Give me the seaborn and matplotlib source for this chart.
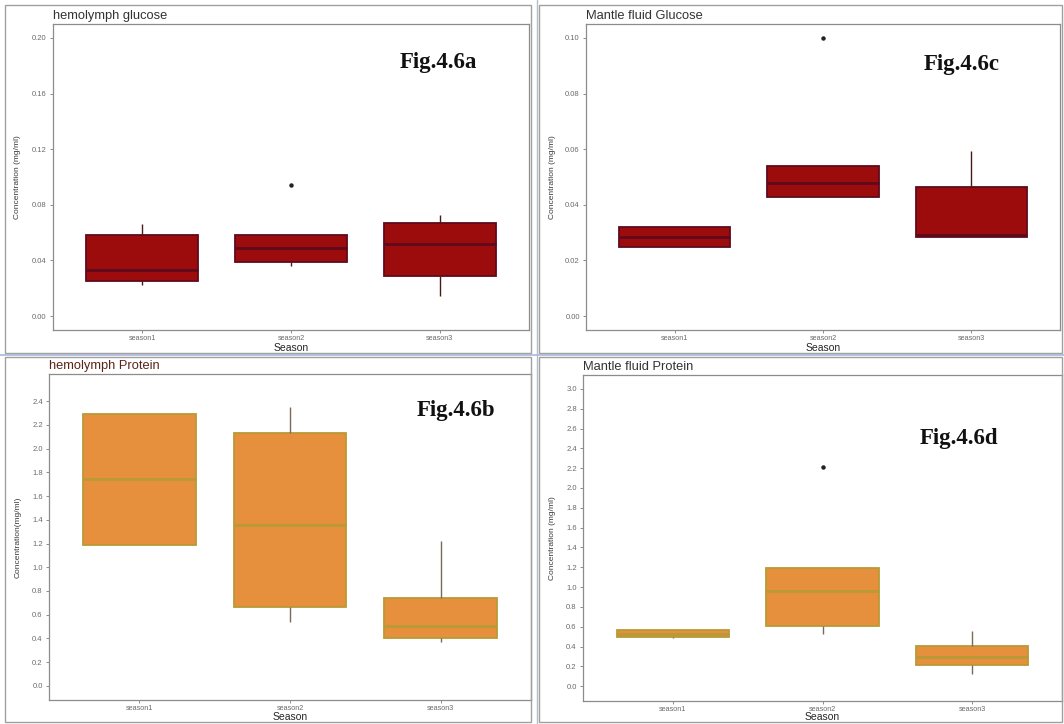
import matplotlib
matplotlib.use("Agg")
import matplotlib.pyplot as plt
import seaborn as sns
import pandas as pd
from matplotlib.patches import Rectangle
from matplotlib.lines import Line2D
from matplotlib.ticker import FormatStrFormatter

# ---------------------------------------------------------------- data
seasons = ["season1", "season2", "season3"]

# Hemolymph glucose (mg/ml), nine readings per season
hemo_glucose_s1 = [0.022, 0.024, 0.025, 0.029, 0.033, 0.045, 0.0586, 0.062, 0.066]
hemo_glucose_s2 = [0.0357, 0.038, 0.039, 0.045, 0.049, 0.053, 0.058, 0.058, 0.0943]
hemo_glucose_s3 = [0.0145, 0.022, 0.0288, 0.040, 0.052, 0.060, 0.0671, 0.070, 0.0724]

# Mantle fluid glucose (mg/ml)
mantle_glucose_s1 = [0.025, 0.025, 0.025, 0.027, 0.0286, 0.030, 0.0321, 0.0321, 0.0321]
mantle_glucose_s2 = [0.0429, 0.0429, 0.0429, 0.045, 0.0479, 0.051, 0.0539, 0.0539, 0.100]
mantle_glucose_s3 = [0.0286, 0.0286, 0.0286, 0.029, 0.0293, 0.038, 0.0464, 0.052, 0.0593]

# Hemolymph protein (mg/ml)
hemo_protein_s1 = [1.19, 1.19, 1.19, 1.50, 1.746, 2.00, 2.296, 2.296, 2.296]
hemo_protein_s2 = [0.541, 0.60, 0.668, 1.00, 1.358, 1.80, 2.135, 2.25, 2.352]
hemo_protein_s3 = [0.369, 0.39, 0.406, 0.45, 0.504, 0.60, 0.738, 0.90, 1.22]

# Mantle fluid protein (mg/ml)
mantle_protein_s1 = [0.49, 0.492, 0.492, 0.51, 0.53, 0.55, 0.568, 0.568, 0.57]
mantle_protein_s2 = [0.525, 0.56, 0.608, 0.80, 0.959, 1.10, 1.194, 1.194, 2.208]
mantle_protein_s3 = [0.123, 0.18, 0.217, 0.26, 0.291, 0.35, 0.407, 0.48, 0.558]

panel_titles = ["hemolymph glucose", "Mantle fluid Glucose",
                "hemolymph Protein", "Mantle fluid Protein"]
panel_tags = ["Fig.4.6a", "Fig.4.6c", "Fig.4.6b", "Fig.4.6d"]
y_labels = ["Concentration (mg/ml)", "Concentration (mg/ml)",
            "Concentration(mg/ml)", "Concentration (mg/ml)"]
x_label = "Season"

glucose_ticks_hemo = [0.00, 0.04, 0.08, 0.12, 0.16, 0.20]
glucose_ticks_mantle = [0.00, 0.02, 0.04, 0.06, 0.08, 0.10]
protein_ticks_hemo = [0.0, 0.2, 0.4, 0.6, 0.8, 1.0, 1.2, 1.4, 1.6, 1.8, 2.0, 2.2, 2.4]
protein_ticks_mantle = [0.0, 0.2, 0.4, 0.6, 0.8, 1.0, 1.2, 1.4, 1.6, 1.8, 2.0,
                        2.2, 2.4, 2.6, 2.8, 3.0]


def long_frame(s1, s2, s3):
    rows = []
    for name, vals in zip(seasons, (s1, s2, s3)):
        rows += [(name, v) for v in vals]
    return pd.DataFrame(rows, columns=["Season", "value"])


# ---------------------------------------------------------------- style
sns.set_theme(style="white")
plt.rcParams["font.family"] = ["Liberation Sans", "DejaVu Sans"]

W, H = 1064, 724
fig = plt.figure(figsize=(W / 100, H / 100), dpi=100)
fig.patch.set_facecolor("white")


def px_rect(l, t, r, b):
    return [l / W, 1 - b / H, (r - l) / W, (b - t) / H]


GLU_FILL, GLU_LINE = "#9c0c0c", "#5e0a1c"
PRO_FILL, PRO_LINE = "#e68f3c", "#b89a36"

panels = [
    dict(df=long_frame(hemo_glucose_s1, hemo_glucose_s2, hemo_glucose_s3),
         box=(53, 24, 529, 330), ylim=(-0.01, 0.21), ticks=glucose_ticks_hemo,
         fmt="%.2f", fill=GLU_FILL, line=GLU_LINE, med=GLU_LINE, whisk="#4a1a1a",
         title_c="#333333", tag_xy=(400, 68), ylab_x=18, xlab_y=348),
    dict(df=long_frame(mantle_glucose_s1, mantle_glucose_s2, mantle_glucose_s3),
         box=(586, 24, 1060, 330), ylim=(-0.005, 0.105), ticks=glucose_ticks_mantle,
         fmt="%.2f", fill=GLU_FILL, line=GLU_LINE, med=GLU_LINE, whisk="#4a1a1a",
         title_c="#333333", tag_xy=(924, 70), ylab_x=552, xlab_y=348),
    dict(df=long_frame(hemo_protein_s1, hemo_protein_s2, hemo_protein_s3),
         box=(49, 374, 531, 700), ylim=(-0.12, 2.63), ticks=protein_ticks_hemo,
         fmt="%.1f", fill=PRO_FILL, line=PRO_LINE, med=PRO_LINE, whisk="#7a6a5a",
         title_c="#5a2418", tag_xy=(417, 416), ylab_x=18, xlab_y=717),
    dict(df=long_frame(mantle_protein_s1, mantle_protein_s2, mantle_protein_s3),
         box=(583, 375, 1062, 701), ylim=(-0.15, 3.14), ticks=protein_ticks_mantle,
         fmt="%.1f", fill=PRO_FILL, line=PRO_LINE, med=PRO_LINE, whisk="#7a6a5a",
         title_c="#333333", tag_xy=(920, 444), ylab_x=552, xlab_y=717),
]

for i, p in enumerate(panels):
    l, t, r, b = p["box"]
    ax = fig.add_axes(px_rect(l, t, r, b))
    sns.boxplot(data=p["df"], x="Season", y="value", ax=ax, order=seasons,
                color=p["fill"], linecolor=p["line"], saturation=1,
                width=0.75, linewidth=1.3, whis=1.5, fliersize=2.2,
                flierprops=dict(marker="o", markerfacecolor="#222222",
                                markeredgecolor="#222222"),
                whiskerprops=dict(linewidth=1.0, color=p["whisk"]),
                capprops=dict(linewidth=0),
                medianprops=dict(color=p["med"], linewidth=2.0))
    ax.set_xlim(-0.6, 2.6)
    ax.set_ylim(*p["ylim"])
    ax.set_yticks(p["ticks"])
    ax.yaxis.set_major_formatter(FormatStrFormatter(p["fmt"]))
    for s in ax.spines.values():
        s.set_visible(True)
        s.set_color("#8c8c8c")
        s.set_linewidth(0.9)
    ax.tick_params(axis="both", which="major", length=2.5, width=0.7,
                   color="#8c8c8c", labelsize=5.5, labelcolor="#6a6a6a",
                   pad=2, left=True, bottom=True)
    ax.tick_params(axis="x", pad=1, labelsize=5.2)
    ax.set_xlabel(x_label, fontsize=7.5, color="#262626")
    ax.xaxis.label.set_verticalalignment("center")
    ax.xaxis.set_label_coords(0.5, -(p["xlab_y"] - b) / (b - t))
    ax.set_ylabel(y_labels[i], fontsize=6, color="#3a3a3a")
    ax.yaxis.label.set_verticalalignment("center")
    ax.yaxis.set_label_coords((p["ylab_x"] - l) / (r - l), 0.5)
    # title, left aligned above the plotting area
    fig.text(l / W, 1 - (t - 8) / H, panel_titles[i], fontsize=9.3,
             color=p["title_c"], ha="left", va="center")
    tx, ty = p["tag_xy"]
    fig.text(tx / W, 1 - ty / H, panel_tags[i], fontsize=16.5,
             fontweight="bold", family=["Liberation Serif", "DejaVu Serif"],
             color="#111111", ha="left", va="baseline")

# panel borders of the composite
frame_kw = dict(transform=fig.transFigure, fill=False, ec="#a0a0a0", lw=1.0)
for (l, t, r, b) in [(5, 5, 531, 353), (539, 5, 1062, 353),
                     (5, 357, 531, 722), (539, 357, 1062, 722)]:
    fig.add_artist(Rectangle((l / W, 1 - b / H), (r - l) / W, (b - t) / H,
                             **frame_kw))
fig.add_artist(Line2D([0, 1], [1 - 355 / H, 1 - 355 / H], transform=fig.transFigure,
                      color="#a9b6dc", lw=1.2))
fig.add_artist(Line2D([537 / W, 537 / W], [0, 1], transform=fig.transFigure,
                      color="#b4bccf", lw=1.0))

fig.savefig("out.png", dpi=100, facecolor="white")
